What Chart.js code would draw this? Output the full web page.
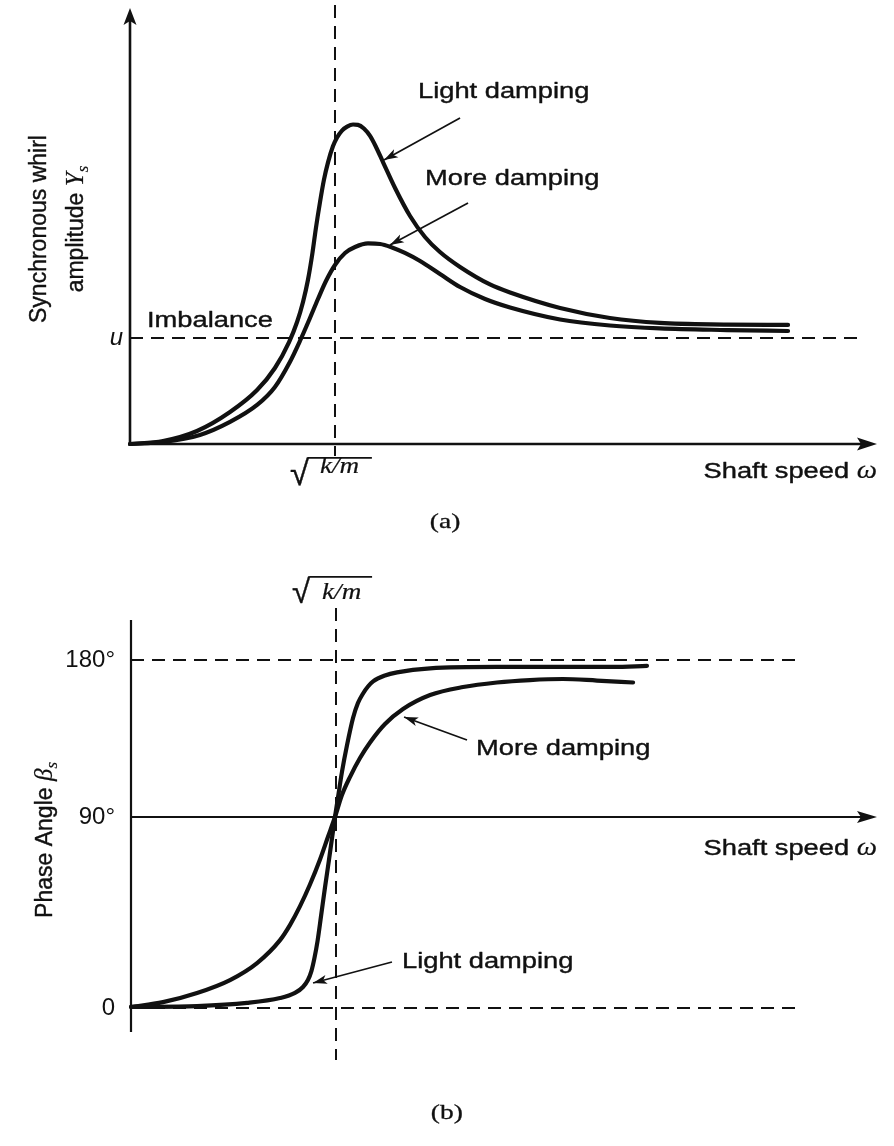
<!DOCTYPE html>
<html>
<head>
<meta charset="utf-8">
<script src="https://cdn.jsdelivr.net/npm/chart.js@4.4.1/dist/chart.umd.min.js"></script>
<style>
html,body{margin:0;padding:0;background:#ffffff;}
#wrap{position:relative;width:894px;height:1146px;overflow:hidden;background:#ffffff;}
canvas{position:absolute;left:0;display:block;}
#cA{top:0;}
#cB{top:560px;}
</style>
</head>
<body>
<div id="wrap">
<canvas id="cA" width="894" height="560"></canvas>
<canvas id="cB" width="894" height="586"></canvas>
</div>
<script>
// ---------------- data (x in units of sqrt(k/m)) ----------------
// (a) synchronous whirl amplitude, in units of the imbalance u
const ampLightX = [0,0.161,0.327,0.488,0.620,0.707,0.776,0.815,0.844,0.868,0.890,0.907,0.927,0.946,0.966,0.990,1.010,1.034,1.059,1.088,1.112,1.141,1.171,1.200,1.234,1.293,1.366,1.439,1.512,1.610,1.756,1.854,2.098,2.341,2.585,2.912,3.210];
const ampLightY = [0,0.028,0.123,0.302,0.509,0.717,0.962,1.151,1.340,1.547,1.802,2.038,2.283,2.491,2.657,2.808,2.891,2.957,2.994,3.014,3.011,2.976,2.906,2.802,2.660,2.415,2.151,1.953,1.811,1.670,1.505,1.429,1.283,1.189,1.142,1.127,1.123];
const ampMoreX  = [0,0.161,0.341,0.488,0.620,0.707,0.780,0.829,0.878,0.917,0.956,1.000,1.049,1.098,1.161,1.220,1.278,1.341,1.415,1.512,1.610,1.732,1.854,2.098,2.341,2.585,2.912,3.210];
const ampMoreY  = [0,0.019,0.085,0.208,0.368,0.538,0.774,0.972,1.189,1.368,1.538,1.689,1.802,1.858,1.892,1.887,1.854,1.802,1.726,1.604,1.481,1.368,1.288,1.175,1.118,1.090,1.075,1.066];
// (b) phase angle in degrees
const phaseLightX = [0,0.322,0.566,0.727,0.800,0.839,0.863,0.880,0.895,0.910,0.927,0.946,0.966,0.995,1.010,1.029,1.054,1.083,1.107,1.132,1.156,1.181,1.239,1.298,1.459,1.785,2.107,2.351,2.517];
const phaseLightY = [0.5,0.9,2.4,4.7,7.1,9.9,13.2,17.4,23.6,31.6,43.3,56.6,70.0,90,101.5,115.8,131.3,146.7,155.3,160.8,164.8,167.7,171.1,172.9,175.2,176.0,176.0,176.0,176.6];
const phaseMoreX  = [0,0.156,0.322,0.483,0.615,0.727,0.776,0.824,0.873,0.922,0.961,0.995,1.029,1.068,1.117,1.166,1.239,1.327,1.459,1.620,1.785,1.946,2.107,2.273,2.449];
const phaseMoreY  = [0.5,2.8,7.1,13.2,21.2,32.0,39.2,47.9,58.2,70.0,80.7,90,102.6,112.9,123.8,132.7,143.3,151.9,159.9,164.5,167.1,168.5,169.1,168.2,167.1];
// tick labels
const ampTicks = [1];
const ampTickLabels = ['u'];
const phaseTicks = [0, 90, 180];
const phaseTickLabels = ['0', '90°', '180°'];
const seriesNames = ['Light damping', 'More damping'];

// ---------------- styling ----------------
const INK = '#111111';
const SANS = '"Liberation Sans", Arial, Helvetica, sans-serif';
const SERIF = '"Liberation Serif", "Times New Roman", serif';
const SX = 1.24;           // horizontal stretch of the scanned lettering
const DASH = [13, 8];
const HEAVY = 0.4;         // slight extra stroke to mimic the print

// piecewise-linear phase scale (the drawing places 90° above the midpoint)
const PHASE_MIN = -11.3, PHASE_MAX = 202.9, PHASE_KNOT = 90, PHASE_KNOT_FRAC = 0.5218;
class WarpScale extends Chart.LinearScale {
  getPixelForValue(v) {
    if (v === null || v === undefined || isNaN(v)) return NaN;
    const k = PHASE_KNOT, f = PHASE_KNOT_FRAC;
    const t = v <= k ? f * (v - this.min) / (k - this.min)
                     : f + (1 - f) * (v - k) / (this.max - k);
    return this.getPixelForDecimal(t);
  }
  getValueForPixel(p) {
    const t = this.getDecimalForPixel(p);
    const k = PHASE_KNOT, f = PHASE_KNOT_FRAC;
    return t <= f ? this.min + (k - this.min) * t / f
                  : k + (this.max - k) * (t - f) / (1 - f);
  }
}
WarpScale.id = 'warp';
WarpScale.defaults = Chart.LinearScale.defaults;
Chart.register(WarpScale);

// ---------------- drawing helpers ----------------
function zip(xs, ys) { return xs.map((x, i) => ({x: x, y: ys[i]})); }
function seg(ctx, pts, w, dash) {
  ctx.save();
  ctx.strokeStyle = INK; ctx.lineWidth = w; ctx.setLineDash(dash || []);
  ctx.beginPath(); ctx.moveTo(pts[0][0], pts[0][1]);
  for (let i = 1; i < pts.length; i++) ctx.lineTo(pts[i][0], pts[i][1]);
  ctx.stroke(); ctx.restore();
}
function head(ctx, tx, ty, fx, fy, len, half, notch) {
  const a = Math.atan2(ty - fy, tx - fx);
  ctx.save(); ctx.translate(tx, ty); ctx.rotate(a);
  ctx.beginPath(); ctx.moveTo(0, 0); ctx.lineTo(-len, -half); ctx.lineTo(-len + notch, 0); ctx.lineTo(-len, half); ctx.closePath();
  ctx.fillStyle = INK; ctx.fill(); ctx.restore();
}
function pointer(ctx, fx, fy, tx, ty) {
  seg(ctx, [[fx, fy], [tx, ty]], 1.7);
  head(ctx, tx, ty, fx, fy, 14, 4.5, 3.5);
}
function runWidth(ctx, parts) {
  let w = 0;
  parts.forEach(p => { ctx.font = p.font; p.w = ctx.measureText(p.t).width * (p.sx || 1); w += p.w; });
  return w;
}
function ink(ctx, t, x, y, heavy) {
  ctx.fillText(t, x, y);
  const h = heavy === undefined ? HEAVY : heavy;
  if (h > 0) { ctx.lineWidth = h; ctx.strokeStyle = INK; ctx.lineJoin = 'round'; ctx.strokeText(t, x, y); }
}
// horizontally stretched text run(s); parts: [{t, font, sx, dy, heavy}]
function hText(ctx, parts, x, y, align) {
  ctx.save(); ctx.fillStyle = INK; ctx.textAlign = 'left'; ctx.textBaseline = 'alphabetic';
  const total = runWidth(ctx, parts);
  let cx = align === 'right' ? x - total : align === 'center' ? x - total / 2 : x;
  parts.forEach(p => {
    ctx.save(); ctx.font = p.font; ctx.translate(cx, y + (p.dy || 0)); ctx.scale(p.sx || 1, 1);
    ink(ctx, p.t, 0, 0, p.heavy); ctx.restore(); cx += p.w;
  });
  ctx.restore();
}
function vText(ctx, parts, bx, cy) {
  ctx.save(); ctx.fillStyle = INK; ctx.textAlign = 'left'; ctx.textBaseline = 'alphabetic';
  const total = runWidth(ctx, parts);
  ctx.translate(bx, cy); ctx.rotate(-Math.PI / 2);
  let cx = -total / 2;
  parts.forEach(p => { ctx.font = p.font; ink(ctx, p.t, cx, p.dy || 0, p.heavy); cx += p.w; });
  ctx.restore();
}
function sqrtLabel(ctx, left, barY, height, barEnd, kmLeft, kmBase) {
  ctx.save(); ctx.fillStyle = INK; ctx.textAlign = 'left'; ctx.textBaseline = 'alphabetic';
  ctx.font = '100px ' + SANS;
  const m = ctx.measureText('√');
  const h100 = m.actualBoundingBoxAscent + m.actualBoundingBoxDescent;
  const size = 100 * height / h100;
  ctx.font = size.toFixed(1) + 'px ' + SANS;
  const mm = ctx.measureText('√');
  const base = barY + mm.actualBoundingBoxAscent;
  const gx = left + mm.actualBoundingBoxLeft;
  ink(ctx, '√', gx, base);
  const right = gx + mm.actualBoundingBoxRight;
  ctx.restore();
  seg(ctx, [[right - 1.5, barY + 0.8], [barEnd, barY + 0.8]], 1.8);
  hText(ctx, [{t: 'k/m', font: 'italic 23px ' + SERIF, sx: 1.18, heavy: 0.2}], kmLeft, kmBase, 'left');
}
const LBL = '22px ' + SANS;
const shaftParts = () => [{t: 'Shaft speed ', font: LBL, sx: SX}, {t: 'ω', font: 'italic 25px ' + SERIF, sx: 1.15, heavy: 0.2}];

// ---------------- (a) amplitude ----------------
const figA = {
  id: 'figA',
  beforeDatasetsDraw(chart) {
    const {ctx, chartArea: a, scales: {x, y}} = chart;
    seg(ctx, [[x.getPixelForValue(0), y.getPixelForValue(1)], [x.getPixelForValue(3.57), y.getPixelForValue(1)]], 2, DASH);
    seg(ctx, [[x.getPixelForValue(1), a.top - 3], [x.getPixelForValue(1), a.bottom + 12]], 2, DASH);
    seg(ctx, [[a.left, a.bottom + 1], [a.left, a.top + 12]], 2.6);
    head(ctx, a.left, a.top, a.left, a.bottom, 17, 6.5, 4);
    seg(ctx, [[a.left - 1, a.bottom], [a.right - 14, a.bottom]], 2.4);
    head(ctx, a.right, a.bottom, a.left, a.bottom, 20, 6.5, 4);
  },
  afterDatasetsDraw(chart) {
    const {ctx, chartArea: a, scales: {x, y}} = chart;
    const X = v => x.getPixelForValue(v), Y = v => y.getPixelForValue(v);
    hText(ctx, [{t: seriesNames[0], font: LBL, sx: SX}], X(1.405), Y(3.264), 'left');
    hText(ctx, [{t: seriesNames[1], font: LBL, sx: SX}], X(1.439), Y(2.443), 'left');
    hText(ctx, [{t: 'Imbalance', font: LBL, sx: SX}], X(0.083), Y(1.104), 'left');
    pointer(ctx, X(1.610), Y(3.075), X(1.239), Y(2.679));
    pointer(ctx, X(1.649), Y(2.274), X(1.268), Y(1.877));
    hText(ctx, shaftParts(), a.right, a.bottom + 34, 'right');
    sqrtLabel(ctx, X(0.78), a.bottom + 13, 28, X(1.18), X(0.927), a.bottom + 29);
    hText(ctx, [{t: '(a)', font: '22px ' + SERIF, sx: 1.25, heavy: 0.3}], X(1.537), a.bottom + 84, 'center');
    vText(ctx, [{t: 'Synchronous whirl', font: '23px ' + SANS}], a.left - 84, Y(2.028));
    vText(ctx, [{t: 'amplitude ', font: '23px ' + SANS},
                {t: 'Υ', font: 'italic 25px ' + SERIF, heavy: 0.2},
                {t: 's', font: 'italic 17px ' + SERIF, dy: 5, heavy: 0.2}], a.left - 47, Y(2.028));
  }
};

const lineStyle = {borderColor: INK, borderWidth: 4.2, pointRadius: 0, pointHoverRadius: 0,
                   cubicInterpolationMode: 'monotone', fill: false, clip: false,
                   borderCapStyle: 'round', borderJoinStyle: 'round'};

new Chart(document.getElementById('cA'), {
  type: 'line',
  data: {datasets: [
    Object.assign({label: seriesNames[0], data: zip(ampLightX, ampLightY)}, lineStyle),
    Object.assign({label: seriesNames[1], data: zip(ampMoreX, ampMoreY)}, lineStyle)
  ]},
  options: {
    responsive: false, animation: false, events: [],
    layout: {padding: {left: 0, top: 8, right: 17, bottom: 116}},
    plugins: {legend: {display: false}, tooltip: {enabled: false}, title: {display: false}},
    scales: {
      x: {type: 'linear', min: 0, max: 3.644, display: false},
      y: {type: 'linear', min: 0, max: 4.113, bounds: 'data',
          grid: {display: false, drawTicks: false}, border: {display: false},
          afterBuildTicks: s => { s.ticks = ampTicks.map(v => ({value: v})); },
          afterFit: s => { s.width = 130; s.paddingTop = 0; s.paddingBottom = 0; },
          ticks: {padding: 7, color: INK, font: {family: SANS, size: 24, style: 'italic'},
                  callback: (v, i) => ampTickLabels[i]}}
    }
  },
  plugins: [figA]
});

// ---------------- (b) phase ----------------
const figB = {
  id: 'figB',
  beforeDatasetsDraw(chart) {
    const {ctx, chartArea: a, scales: {x, y}} = chart;
    const X = v => x.getPixelForValue(v), Y = v => y.getPixelForValue(v);
    seg(ctx, [[X(0), Y(180)], [X(3.26), Y(180)]], 2, DASH);
    seg(ctx, [[X(0), Y(0)], [X(3.25), Y(0)]], 2, DASH);
    seg(ctx, [[X(1), a.top - 12], [X(1), a.bottom + 28]], 2, DASH);
    seg(ctx, [[a.left, a.top], [a.left, a.bottom]], 2.2);
    seg(ctx, [[a.left, Y(90)], [a.right - 14, Y(90)]], 1.8);
    head(ctx, a.right, Y(90), a.left, Y(90), 20, 6, 4);
  },
  afterDatasetsDraw(chart) {
    const {ctx, chartArea: a, scales: {x, y}} = chart;
    const X = v => x.getPixelForValue(v), Y = v => y.getPixelForValue(v);
    hText(ctx, [{t: seriesNames[1], font: LBL, sx: SX}], X(1.683), Y(125.5), 'left');
    hText(ctx, [{t: seriesNames[0], font: LBL, sx: SX}], X(1.322), Y(18.8), 'left');
    pointer(ctx, X(1.639), Y(134.1), X(1.332), Y(147.3));
    pointer(ctx, X(1.273), Y(21.7), X(0.888), Y(11.8));
    hText(ctx, shaftParts(), a.right, Y(90) + 38, 'right');
    sqrtLabel(ctx, X(0.785), a.top - 44, 27, X(1.176), X(0.932), a.top - 21);
    hText(ctx, [{t: '(b)', font: '22px ' + SERIF, sx: 1.25, heavy: 0.3}], X(1.541), a.bottom + 87, 'center');
    vText(ctx, [{t: 'Phase Angle ', font: '23px ' + SANS},
                {t: 'β', font: 'italic 25px ' + SERIF, heavy: 0.2},
                {t: 's', font: 'italic 17px ' + SERIF, dy: 5, heavy: 0.2}], a.left - 79, Y(79.2));
  }
};

new Chart(document.getElementById('cB'), {
  type: 'line',
  data: {datasets: [
    Object.assign({label: seriesNames[0], data: zip(phaseLightX, phaseLightY)}, lineStyle),
    Object.assign({label: seriesNames[1], data: zip(phaseMoreX, phaseMoreY)}, lineStyle)
  ]},
  options: {
    responsive: false, animation: false, events: [],
    layout: {padding: {left: 0, top: 60, right: 17, bottom: 114}},
    plugins: {legend: {display: false}, tooltip: {enabled: false}, title: {display: false}},
    scales: {
      x: {type: 'linear', min: 0, max: 3.639, display: false},
      y: {type: 'warp', min: PHASE_MIN, max: PHASE_MAX, bounds: 'data',
          grid: {display: false, drawTicks: false}, border: {display: false},
          afterBuildTicks: s => { s.ticks = phaseTicks.map(v => ({value: v})); },
          afterFit: s => { s.width = 131; s.paddingTop = 0; s.paddingBottom = 0; },
          ticks: {padding: 16, color: INK, font: {family: SANS, size: 24},
                  callback: (v, i) => phaseTickLabels[i]}}
    }
  },
  plugins: [figB]
});
</script>
</body>
</html>
